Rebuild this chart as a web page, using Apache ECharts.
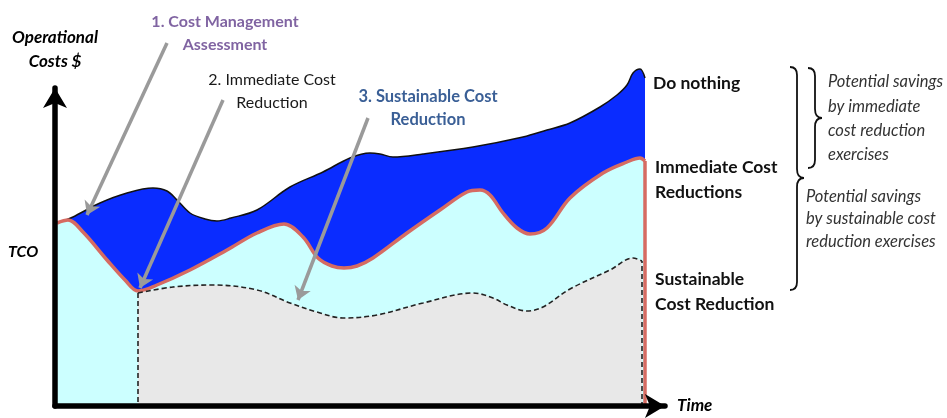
<!DOCTYPE html>
<html>
<head>
<meta charset="utf-8">
<script src="https://cdn.jsdelivr.net/npm/echarts@6/dist/echarts.min.js"></script>
<style>
  html, body { margin: 0; padding: 0; background: #fff; }
  #chart { width: 947px; height: 418px; }
</style>
</head>
<body>
<div id="chart"></div>
<script>
// time runs 0..588, cost runs 0..400 (schematic units, no ticks shown)
const doNothing = [
  [9, 188], [16, 191], [43, 205], [70, 215], [96, 220], [110, 217], [120, 208],
  [133, 195], [148, 189], [160, 187], [174, 190], [200, 198], [233, 221], [266, 236],
  [293, 250], [313, 255], [323, 254], [336, 251], [366, 254], [416, 261],
  [466, 271], [490, 278], [513, 285], [543, 301], [560, 313], [570, 323],
  [576, 335], [583, 339], [588, 330]
]
const immediate = [
  [0, 185], [11, 188], [26, 176], [50, 148], [68, 128], [81, 117], [100, 123],
  [133, 138], [170, 158], [200, 175], [227, 184], [246, 171], [261, 150],
  [275, 142], [287, 140], [300, 142], [316, 150], [350, 175], [383, 198],
  [410, 216], [423, 218], [433, 213], [446, 195], [460, 180], [473, 174],
  [490, 180], [513, 210], [546, 235], [570, 246], [583, 250], [588, 247]
]
const sustainable = [
  [81, 115], [116, 121], [156, 123], [200, 118], [233, 105], [260, 96],
  [286, 90], [320, 93], [366, 105], [416, 115], [436, 110], [450, 103],
  [470, 97], [486, 101], [513, 119], [553, 138], [576, 150], [585, 147]
]
const sustainableEdge = [[81, 115], [81, 2], [585, 2], [585, 147]]
const immediateEdge = [[588, 247], [588, 0]]

// pointer arrows: [from, to]
const pointers = [
  [[110, 365], [30, 193]],
  [[166, 308], [83, 120]],
  [[311, 290], [241, 108]]
]

const stepLabels = ['1. Cost Management\nAssessment', '2. Immediate Cost\nReduction', '3. Sustainable Cost\nReduction']
const endLabels = ['Do nothing', 'Immediate Cost\nReductions', 'Sustainable\nCost Reduction']
const savingsLabels = ['Potential savings\nby immediate\ncost reduction\nexercises', 'Potential savings\nby sustainable cost\nreduction exercises']

const FONT = 'Lato, "Open Sans", sans-serif'

const chart = echarts.init(document.getElementById('chart'), null, { renderer: 'canvas' })

const hiddenAxis = (idx, max) => ({
  type: 'value', gridIndex: idx, min: 0, max: max, show: false
})

const arrowAxis = {
  type: 'value', gridIndex: 1, min: 0, max: 1, z: 10,
  axisLine: { show: true, symbol: ['none', 'arrow'], symbolSize: [18, 20], lineStyle: { color: '#000', width: 5.5 } },
  axisTick: { show: false },
  axisLabel: { show: false },
  splitLine: { show: false },
  nameTextStyle: { fontFamily: FONT, fontSize: 17, fontWeight: 'bold', fontStyle: 'italic', color: '#000', lineHeight: 24 }
}

// right curly brace built from curves: x = stem, top/bottom = ends, mid = tip height
const brace = (x, top, bottom, mid, w) => {
  const s = { stroke: '#111', lineWidth: 1.8, fill: null }
  const q = (x1, y1, cx, cy, x2, y2) => ({ type: 'bezierCurve', shape: { x1, y1, x2, y2, cpx1: cx, cpy1: cy }, style: s })
  const l = (x1, y1, x2, y2) => ({ type: 'line', shape: { x1, y1, x2, y2 }, style: s })
  return {
    type: 'group',
    children: [
      q(x - w, top, x, top, x, top + 8),
      l(x, top + 8, x, mid - 9),
      q(x, mid - 9, x, mid, x + w, mid),
      q(x + w, mid, x, mid, x, mid + 9),
      l(x, mid + 9, x, bottom - 8),
      q(x, bottom - 8, x, bottom, x - w, bottom)
    ]
  }
}

const dashed = { color: '#222', width: 1.6, type: [5, 3] }

const option = {
  animation: false,
  backgroundColor: '#fff',
  grid: [
    { left: 57, right: 302, top: 8, bottom: 10 },
    { left: 55, right: 282, top: 88, bottom: 9 }
  ],
  xAxis: [
    hiddenAxis(0, 588),
    Object.assign({}, arrowAxis, { name: 'Time', nameLocation: 'end', nameGap: 12 })
  ],
  yAxis: [
    hiddenAxis(0, 400),
    Object.assign({}, arrowAxis, { name: 'Operational\nCosts $', nameLocation: 'end', nameGap: 14 })
  ],
  series: [
    {
      name: 'Do nothing',
      type: 'line',
      smooth: 0.35,
      symbol: 'none',
      data: doNothing,
      lineStyle: { color: '#111', width: 1.5 },
      areaStyle: { color: '#0a2cff', opacity: 1 },
      z: 1
    },
    {
      name: 'Immediate Cost Reductions',
      type: 'line',
      smooth: 0.35,
      symbol: 'none',
      data: immediate,
      lineStyle: { color: '#d66b62', width: 3.5 },
      areaStyle: { color: '#ccffff', opacity: 1 },
      z: 2
    },
    {
      name: 'Sustainable Cost Reduction',
      type: 'line',
      smooth: 0.35,
      symbol: 'none',
      data: sustainable,
      lineStyle: dashed,
      areaStyle: { color: '#e8e8e8', opacity: 1 },
      z: 3
    },
    {
      type: 'line',
      symbol: 'none',
      data: sustainableEdge,
      lineStyle: dashed,
      z: 4
    },
    {
      type: 'line',
      symbol: 'none',
      data: immediateEdge,
      lineStyle: { color: '#d66b62', width: 3.5 },
      z: 4,
      markLine: {
        silent: true,
        symbol: ['none', 'arrow'],
        symbolSize: 13,
        label: { show: false },
        lineStyle: { color: '#9a9a9a', width: 3.5, type: 'solid' },
        data: pointers.map(p => [{ coord: p[0] }, { coord: p[1] }])
      }
    }
  ],
  graphic: [
    { type: 'text', x: 8, y: 244, style: { text: 'TCO', font: 'italic bold 16px ' + FONT, fill: '#000' } },
    { type: 'text', x: 225, y: 10, style: { text: stepLabels[0], font: 'bold 16px ' + FONT, fill: '#8064a2', align: 'center', lineHeight: 23 } },
    { type: 'text', x: 272, y: 68, style: { text: stepLabels[1], font: '16px ' + FONT, fill: '#1a1a1a', align: 'center', lineHeight: 23 } },
    { type: 'text', x: 428, y: 85, style: { text: stepLabels[2], font: 'bold 16.5px ' + FONT, fill: '#3a5f96', align: 'center', lineHeight: 23 } },
    { type: 'text', x: 653, y: 71, style: { text: endLabels[0], font: 'bold 17.5px ' + FONT, fill: '#111', lineHeight: 25 } },
    { type: 'text', x: 655, y: 155, style: { text: endLabels[1], font: 'bold 17.5px ' + FONT, fill: '#111', lineHeight: 25 } },
    { type: 'text', x: 655, y: 267, style: { text: endLabels[2], font: 'bold 17.5px ' + FONT, fill: '#111', lineHeight: 25 } },
    { type: 'text', x: 828, y: 70, style: { text: savingsLabels[0], font: 'italic 16.5px ' + FONT, fill: '#333', lineHeight: 24.3 } },
    { type: 'text', x: 806, y: 185, style: { text: savingsLabels[1], font: 'italic 16.5px ' + FONT, fill: '#333', lineHeight: 22.5 } },
    brace(797, 67, 290, 178, 7),
    brace(815, 68, 168, 118, 7)
  ]
}

chart.setOption(option)
</script>
</body>
</html>
